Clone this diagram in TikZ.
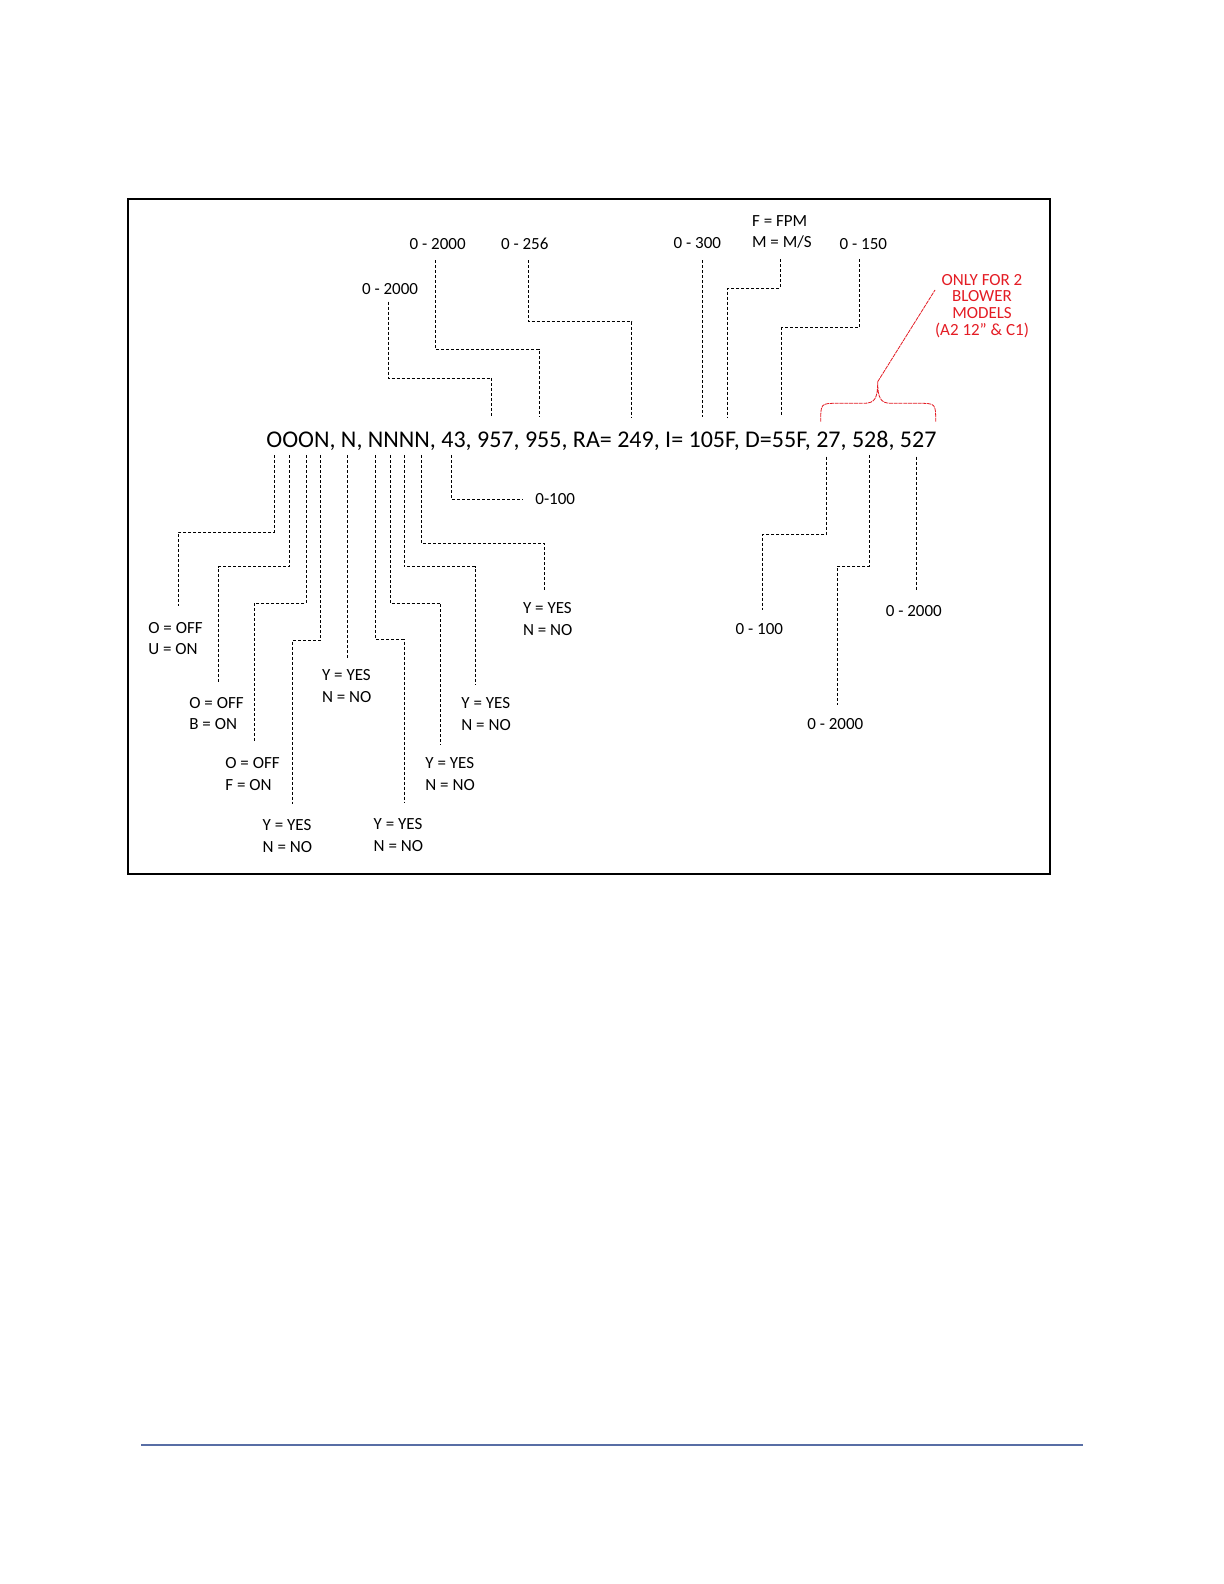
\documentclass[tikz,border=0pt]{standalone}
\usepackage{fontspec}
\setmainfont{Carlito}
\definecolor{redtxt}{RGB}{228,28,36}
\definecolor{footblue}{RGB}{88,110,165}
\begin{document}
\begin{tikzpicture}[x=0.5pt,y=-0.5pt,
  dl/.style={draw=black, line width=0.45pt, dash pattern=on 1.5pt off 1pt},
  lab/.style={font=\fontsize{8.5}{10.65}\selectfont, inner sep=0pt, align=left, anchor=west},
  clab/.style={font=\fontsize{8.5}{10.65}\selectfont, inner sep=0pt, align=center, anchor=center},
  redlab/.style={font=\fontsize{8.5}{8.35}\selectfont, inner sep=0pt, align=center, text=redtxt},
  redln/.style={draw=redtxt, line width=0.4pt, dash pattern=on 2pt off 0.4pt}]
\useasboundingbox (0,0) rectangle (1224,1584);
\fill[white] (0,0) rectangle (1224,1584);

% frame and footer rule
\draw[line width=1pt] (127.5,198.5) rectangle (1049.8,873.8);
\draw[footblue, line width=0.6pt] (141,1445) -- (1083,1445);

% main code string
\node[inner sep=0pt, anchor=base west, font=\fontsize{12}{14}\selectfont] (code) at (266,447)
  {OOON, N, NNNN, 43, 957, 955, RA= 249, I= 105F, D=55F, 27, 528, 527};

% top labels
\node[lab] (t1) at (409.3,244) {0 - 2000};
\node[lab] (t2) at (500.7,244) {0 - 256};
\node[lab] (t0) at (361.7,289.3) {0 - 2000};
\node[lab] (t3) at (673.3,243.3) {0 - 300};
\node[lab] (t4) at (751.7,231.7) {F = FPM\\M = M/S};
\node[lab] (t5) at (839.3,244) {0 - 150};
\node[redlab] (note) at (982,306) {ONLY FOR 2\\BLOWER\\MODELS\\(A2 12” \& C1)};

% bottom labels
\node[lab] (b1) at (148,638.4) {O = OFF\\U = ON};
\node[lab] (b2) at (189,713.5) {O = OFF\\B = ON};
\node[lab] (b3) at (225,774) {O = OFF\\F = ON};
\node[lab] (b4) at (262.3,836) {Y = YES\\N = NO};
\node[lab] (b5) at (321.7,686) {Y = YES\\N = NO};
\node[lab] (b6) at (373.3,835) {Y = YES\\N = NO};
\node[lab] (b7) at (425,774) {Y = YES\\N = NO};
\node[lab] (b8) at (461,714) {Y = YES\\N = NO};
\node[lab] (b9) at (522.7,619) {Y = YES\\N = NO};
\node[lab] (b10) at (535,499) {0-100};
\node[clab] (r1) at (759.3,629.3) {0 - 100};
\node[clab] (r2) at (835.3,724.3) {0 - 2000};
\node[clab] (r3) at (913.8,610.7) {0 - 2000};

% top connectors
\draw[dl] (388.3,301.7) |- (491.7,378.3) -- (491.7,416.7);
\draw[dl] (435.7,260) |- (539.3,349.3) -- (539.3,416.7);
\draw[dl] (528.3,260) |- (631.7,321.7) -- (631.7,416.7);
\draw[dl] (702.3,260) -- (702.3,416.7);
\draw[dl] (780,259.3) |- (727.3,288.3) -- (727.3,416.7);
\draw[dl] (859.3,259.3) |- (781.7,327.7) -- (781.7,416.7);

% bottom connectors
\draw[dl] (274.3,455) |- (178.3,532) -- (178.3,605.7);
\draw[dl] (289.3,455) |- (218.3,566.7) -- (218.3,683.3);
\draw[dl] (306,455) |- (254.3,603.3) -- (254.3,743.3);
\draw[dl] (320.7,455) |- (292.3,640) -- (292.3,804.3);
\draw[dl] (347.7,455) -- (347.7,658.3);
\draw[dl] (375.7,455) |- (404,639.3) -- (404,803.3);
\draw[dl] (390,455) |- (440.7,603.3) -- (440.7,745);
\draw[dl] (404,455) |- (475,566.7) -- (475,685);
\draw[dl] (421.7,455) |- (544.3,543.3) -- (544.3,590.7);
\draw[dl] (451.7,455) |- (523.3,499.3);
\draw[dl] (826.7,456.7) |- (762.7,534.3) -- (762.7,610);
\draw[dl] (869.3,455) |- (837.7,566) -- (837.7,705);
\draw[dl] (916.7,456.7) -- (916.7,590);

% red brace and leader
\coordinate (tip) at (877.7,381.7);
\draw[redln] (820.7,421.7) .. controls (820.7,403.3) .. (838,403.3) -- (864,403.3)
  .. controls (875,403.3) and (877.7,398) .. (tip)
  .. controls (877.7,398) and (880.5,403.3) .. (891,403.3) -- (918,403.3)
  .. controls (935.7,403.3) .. (935.7,421.7);
\draw[redln] (tip) -- (935,290);
\end{tikzpicture}
\end{document}
